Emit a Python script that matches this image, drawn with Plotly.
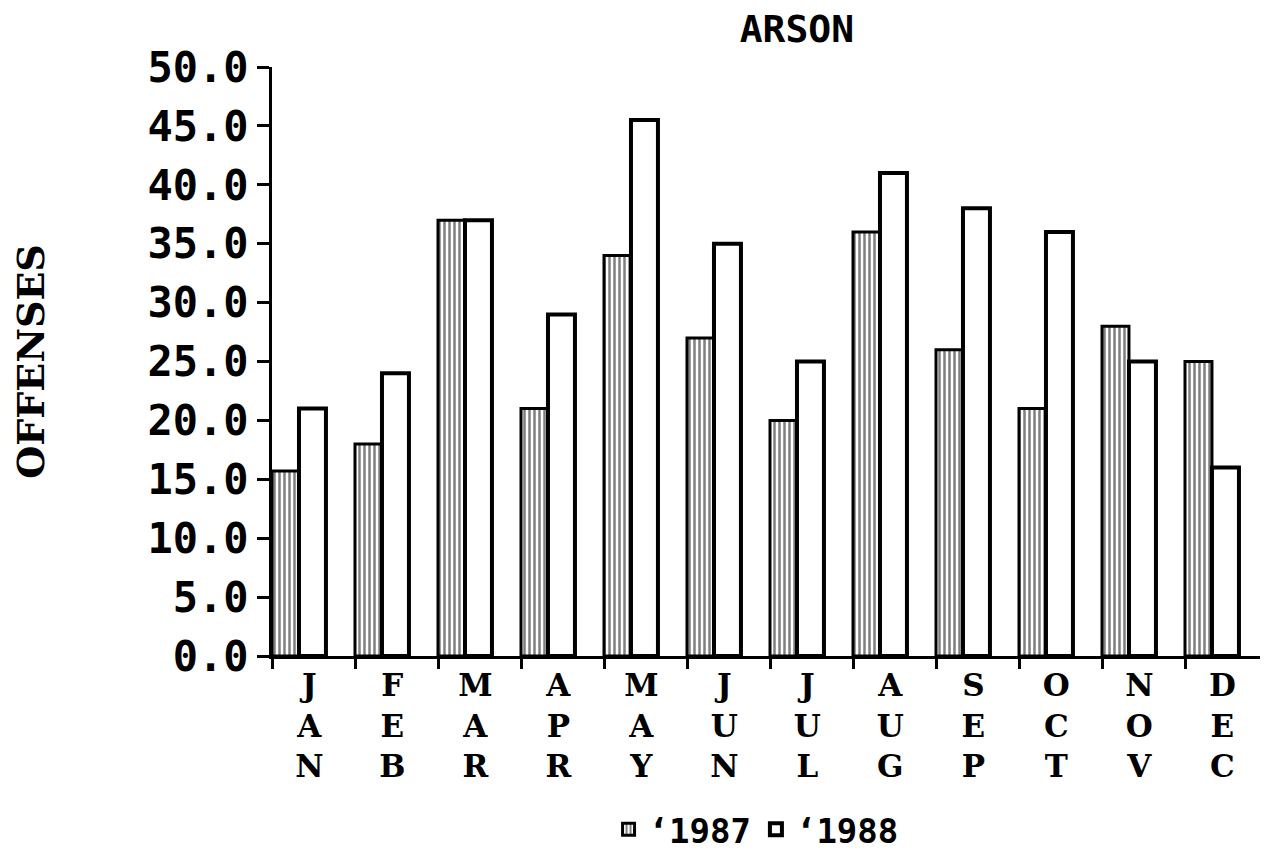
"""
放火件数（月別）1987 vs 1988
"""
import plotly.graph_objects as go

# データ
months = ["JAN", "FEB", "MAR", "APR", "MAY", "JUN",
          "JUL", "AUG", "SEP", "OCT", "NOV", "DEC"]
offenses_1987 = [15.7, 18, 37, 21, 34, 27, 20, 36, 26, 21, 28, 25]
offenses_1988 = [21, 24, 37, 29, 45.5, 35, 25, 41, 38, 36, 25, 16]
y_ticks = [0, 5, 10, 15, 20, 25, 30, 35, 40, 45, 50]

x_pos = list(range(len(months)))
# 月名は縦書き（1文字ずつ改行）
month_text = ["<br>".join(m) for m in months]

BAR_W = 0.325
MONO = "DejaVu Sans Mono"
SERIF = "DejaVu Serif"

fig = go.Figure()

# 1987: 縦縞
fig.add_trace(go.Bar(
    x=x_pos,
    y=offenses_1987,
    name="‘1987",
    width=BAR_W,
    offset=0,
    marker=dict(
        color="white",
        line=dict(color="black", width=3),
        pattern=dict(shape="|", fgcolor="black", bgcolor="white",
                     size=5, solidity=0.5),
    ),
))

# 1988: 白抜き
fig.add_trace(go.Bar(
    x=x_pos,
    y=offenses_1988,
    name="‘1988",
    width=BAR_W,
    offset=BAR_W,
    marker=dict(color="white", line=dict(color="black", width=4)),
))

# ページ本体の余白(8px)を考慮してサイズを決める
fig.update_layout(
    barmode="overlay",
    width=1260,
    height=850,
    paper_bgcolor="white",
    plot_bgcolor="white",
    margin=dict(l=264, r=0, t=59, b=202, autoexpand=False),
    title=dict(
        text="ARSON",
        xref="paper",
        x=0.527, xanchor="center",
        y=0.976, yanchor="middle",
        font=dict(family=MONO, size=38, color="black", weight="bold"),
    ),
    legend=dict(
        orientation="h",
        x=0.486, xanchor="center",
        y=-0.295, yanchor="middle",
        font=dict(family=MONO, size=34, color="black", weight="bold"),
    ),
)

fig.update_xaxes(
    range=[0, 12],
    automargin=False,
    tickmode="array",
    tickvals=[i + 0.45 for i in x_pos],
    ticktext=month_text,
    ticks="",
    tickfont=dict(family=SERIF, size=31, color="black", weight="bold"),
    showgrid=False,
    zeroline=False,
    showline=True,
    linecolor="black",
    linewidth=3,
    minor=dict(ticks="outside", tick0=0, dtick=1, ticklen=10,
               tickwidth=3, tickcolor="black", showgrid=False),
)

fig.update_yaxes(
    range=[0, 50],
    automargin=False,
    tickmode="array",
    tickvals=y_ticks,
    ticktext=[f"{v:.1f}" for v in y_ticks],
    ticks="outside",
    ticklen=12,
    tickwidth=3,
    tickcolor="black",
    tickfont=dict(family=MONO, size=42, color="black", weight="bold"),
    showgrid=False,
    zeroline=False,
    showline=True,
    linecolor="black",
    linewidth=3,
    title=dict(
        text="OFFENSES",
        standoff=106,
        font=dict(family=SERIF, size=38, color="black", weight="bold"),
    ),
)

fig.write_html("out.html")
